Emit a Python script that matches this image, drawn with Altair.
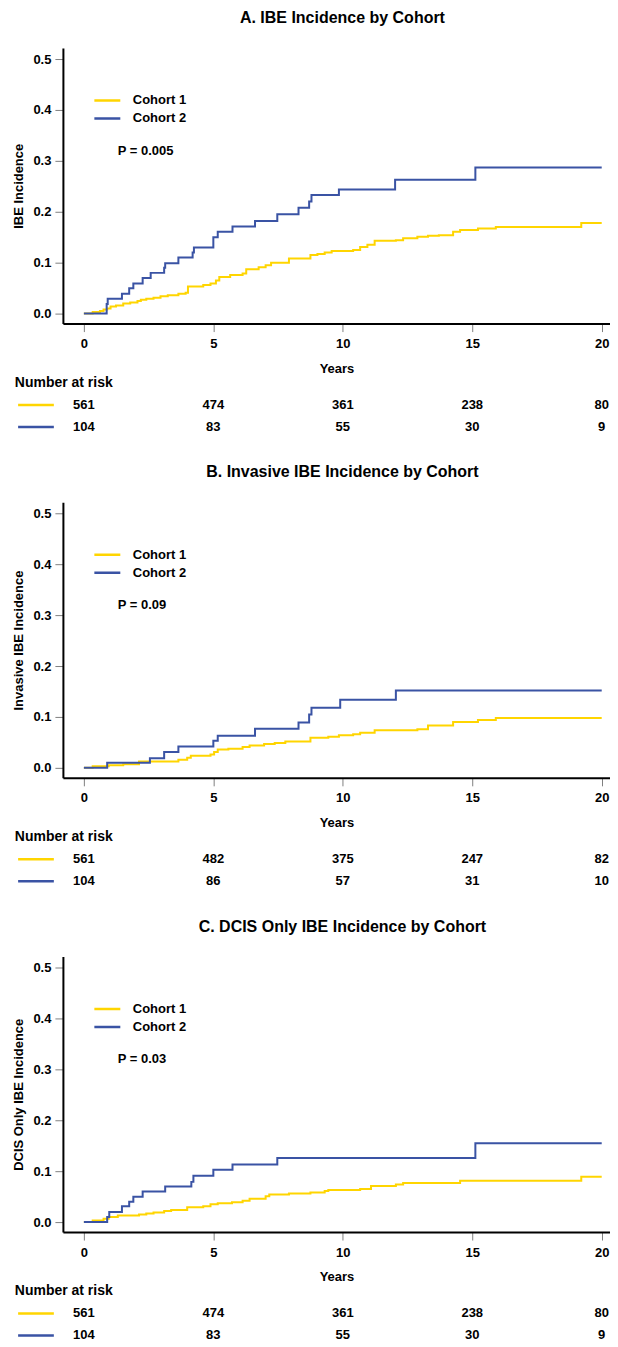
import altair as alt
import pandas as pd

YELLOW = "#FFD500"
BLUE = "#3A53A4"
FONT = "Liberation Sans"

# ---------------- data ----------------
risk_years = [0, 5, 10, 15, 20]
cohorts = ["Cohort 1", "Cohort 2"]

# Panel A
a_c1_years = [0, 0.34, 0.62, 0.76, 0.90, 1.03, 1.24, 1.52, 1.79, 2.07, 2.20, 2.41, 2.69, 2.96, 3.24,
              3.65, 3.93, 4.02, 4.61, 4.89, 5.10, 5.23, 5.65, 6.13, 6.27, 6.75, 7.02, 7.23, 7.92, 8.75,
              9.02, 9.30, 9.57, 10.40, 10.67, 10.95, 11.23, 12.05, 12.33, 12.88, 13.29, 13.71, 14.26,
              14.53, 15.22, 15.91, 19.21, 20]
a_c1_inc = [0, .003, .005, .008, .010, .014, .016, .020, .022, .025, .027, .029, .031, .034, .036,
            .039, .041, .053, .056, .059, .065, .072, .076, .079, .087, .091, .095, .100, .108, .115,
            .117, .120, .123, .125, .131, .135, .143, .144, .148, .151, .153, .154, .161,
            .164, .167, .170, .178, .178]
a_c2_years = [0, 0.88, 0.92, 1.47, 1.75, 1.91, 2.27, 2.58, 3.10, 3.14, 3.65, 4.20, 4.25, 5.0, 5.17,
              5.74, 6.61, 7.47, 8.29, 8.70, 8.79, 9.85, 12.02, 15.12, 20]
a_c2_inc = [0, .019, .029, .039, .050, .059, .070, .080, .090, .099, .110, .120, .130, .150, .161,
            .171, .182, .195, .208, .220, .233, .244, .263, .287, .287]
a_risk_c1 = [561, 474, 361, 238, 80]
a_risk_c2 = [104, 83, 55, 30, 9]

# Panel B
b_c1_years = [0, 0.34, 0.96, 1.52, 2.13, 3.65, 3.99, 4.13, 4.89, 5.03, 5.17, 5.58, 6.13, 6.40, 6.96,
              7.37, 7.78, 8.75, 9.44, 9.85, 10.40, 10.67, 11.23, 12.88, 13.29, 14.26, 15.22, 15.91, 20]
b_c1_inc = [0, .003, .005, .007, .0125, .016, .020, .024, .026, .031, .036, .0375, .041, .044, .047,
            .049, .052, .059, .061, .064, .066, .069, .074, .076, .083, .090, .094, .098, .098]
b_c2_years = [0, 0.90, 2.55, 3.10, 3.65, 5.0, 5.17, 6.61, 8.29, 8.70, 8.79, 9.90, 12.05, 20]
b_c2_inc = [0, .010, .019, .031, .042, .053, .063, .077, .089, .105, .118, .134, .152, .152]
b_risk_c1 = [561, 482, 375, 247, 82]
b_risk_c2 = [104, 86, 57, 31, 10]

# Panel C
c_c1_years = [0, 0.34, 0.76, 0.96, 1.31, 2.13, 2.41, 2.69, 3.10, 3.37, 3.99, 4.61, 4.89, 5.17, 5.72,
              6.13, 6.40, 7.02, 7.16, 7.92, 8.75, 9.30, 9.44, 10.67, 11.09, 12.05, 12.33, 14.53, 19.21, 20]
c_c1_inc = [0, .003, .0065, .010, .013, .015, .017, .019, .022, .024, .029, .031, .035, .037, .039,
            .042, .046, .051, .054, .056, .058, .061, .063, .065, .071, .074, .077, .081, .089, .089]
c_c2_years = [0, 0.90, 0.98, 1.47, 1.75, 1.91, 2.27, 3.14, 4.15, 4.23, 5.0, 5.74, 7.47, 15.12, 20]
c_c2_inc = [0, .010, .020, .031, .040, .050, .060, .070, .079, .091, .103, .113, .126, .155, .155]
c_risk_c1 = [561, 474, 361, 238, 80]
c_risk_c2 = [104, 83, 55, 30, 9]

titles = ["A. IBE Incidence by Cohort", "B. Invasive IBE Incidence by Cohort",
          "C. DCIS Only IBE Incidence by Cohort"]
y_titles = ["IBE Incidence", "Invasive IBE Incidence", "DCIS Only IBE Incidence"]
p_labels = ["P = 0.005", "P = 0.09", "P = 0.03"]

# annotation anchors (data units)
p_pos_year = 1.31
p_pos_inc = 0.32
risk_line_from = -2.54
risk_line_to = -1.16

X_DOMAIN = [-0.81, 20.32]
Y_DOMAIN = [-0.0196, 0.5216]
W = 548


def panel(title, ytitle, c1x, c1y, c2x, c2y, plabel, r1, r2):
    df = pd.DataFrame({
        "Years": c1x + c2x,
        "Incidence": c1y + c2y,
        "Cohort": ["Cohort 1"] * len(c1x) + ["Cohort 2"] * len(c2x),
    })
    xscale = alt.Scale(domain=X_DOMAIN, nice=False, zero=False)
    yscale = alt.Scale(domain=Y_DOMAIN, nice=False, zero=False)
    lines = alt.Chart(df).mark_line(interpolate="step-after", strokeWidth=2).encode(
        x=alt.X("Years:Q", scale=xscale,
                axis=alt.Axis(values=risk_years, title="Years", format="d",
                              labelPadding=6, titlePadding=12)),
        y=alt.Y("Incidence:Q", scale=yscale,
                axis=alt.Axis(values=[0, 0.1, 0.2, 0.3, 0.4, 0.5], format=".1f",
                              title=ytitle, titlePadding=7, labelPadding=4)),
        color=alt.Color("Cohort:N",
                        scale=alt.Scale(domain=cohorts, range=[YELLOW, BLUE]),
                        legend=alt.Legend(orient="none", legendX=30, legendY=46, title=None,
                                          symbolType="stroke", symbolSize=676,
                                          symbolStrokeWidth=2.5, labelFontSize=13,
                                          labelFontWeight="bold", labelFont=FONT,
                                          labelColor="black", labelOffset=11,
                                          clipHeight=13, rowPadding=4, padding=0)),
    )
    ptext = alt.Chart(pd.DataFrame({"Years": [p_pos_year], "Incidence": [p_pos_inc],
                                    "label": [plabel]})).mark_text(
        align="left", baseline="middle", fontSize=13, fontWeight="bold", font=FONT,
        color="black").encode(x="Years:Q", y="Incidence:Q", text="label:N")
    plot = alt.layer(lines, ptext).properties(
        width=W, height=276,
        title=alt.TitleParams(title, fontSize=16, fontWeight="bold", font=FONT,
                              anchor="middle", offset=22, dx=6, color="black"))

    rdf = pd.DataFrame({
        "Years": risk_years * 2,
        "Cohort": ["Cohort 1"] * 5 + ["Cohort 2"] * 5,
        "n": r1 + r2,
    })
    rscale_y = alt.Scale(type="point", domain=cohorts, padding=0.25)
    rtext = alt.Chart(rdf).mark_text(fontSize=13, fontWeight="bold", font=FONT,
                                     color="black", baseline="middle").encode(
        x=alt.X("Years:Q", scale=xscale, axis=None),
        y=alt.Y("Cohort:N", scale=rscale_y, axis=None),
        text="n:Q")
    ldf = pd.DataFrame({"Cohort": cohorts, "x1": [risk_line_from] * 2,
                        "x2": [risk_line_to] * 2, "col": [YELLOW, BLUE]})
    rlines = alt.Chart(ldf).mark_rule(strokeWidth=2.5).encode(
        x=alt.X("x1:Q", scale=xscale, axis=None), x2="x2:Q",
        y=alt.Y("Cohort:N", scale=rscale_y, axis=None),
        color=alt.Color("col:N", scale=None))
    risk = alt.layer(rtext, rlines).properties(
        width=W, height=33,
        title=alt.TitleParams("Number at risk", fontSize=14, fontWeight="bold", font=FONT,
                              anchor="start", frame="bounds", offset=9, dx=-2, color="black"))
    return alt.vconcat(plot, risk, spacing=0)


panels = [
    panel(titles[0], y_titles[0], a_c1_years, a_c1_inc, a_c2_years, a_c2_inc, p_labels[0],
          a_risk_c1, a_risk_c2),
    panel(titles[1], y_titles[1], b_c1_years, b_c1_inc, b_c2_years, b_c2_inc, p_labels[1],
          b_risk_c1, b_risk_c2),
    panel(titles[2], y_titles[2], c_c1_years, c_c1_inc, c_c2_years, c_c2_inc, p_labels[2],
          c_risk_c1, c_risk_c2),
]

chart = alt.vconcat(*panels, spacing=30).resolve_scale(color="independent").properties(
    padding={"left": 4, "top": 1, "right": 0, "bottom": 0}
).configure_view(stroke=None).configure_axis(
    labelFont=FONT, titleFont=FONT, labelFontSize=13, titleFontSize=13,
    labelFontWeight="bold", titleFontWeight="bold", labelColor="black", titleColor="black",
    domainColor="black", domainWidth=2, tickColor="#808080", tickWidth=1, tickSize=8,
    grid=False,
).configure_concat(spacing=0)

chart.save("out.html", embed_options={"renderer": "svg", "actions": False})
